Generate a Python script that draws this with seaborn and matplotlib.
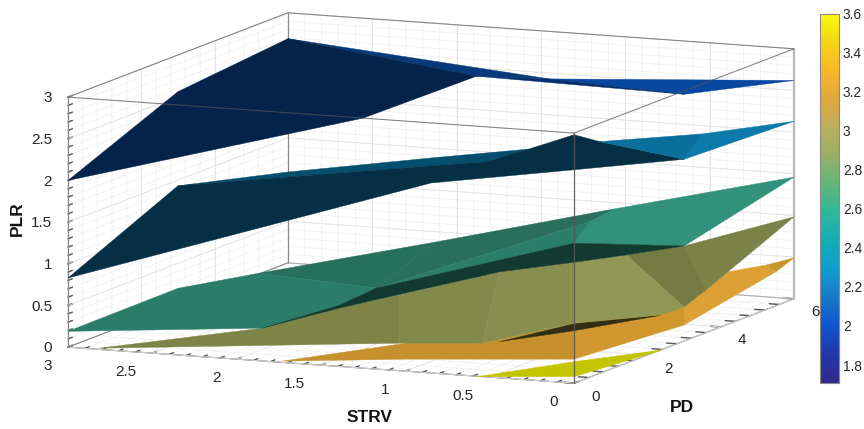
import numpy as np
import matplotlib
matplotlib.use("Agg")
import matplotlib.pyplot as plt
import seaborn as sns
from mpl_toolkits.mplot3d import proj3d
from mpl_toolkits.mplot3d.art3d import Poly3DCollection

sns.set_theme(style="white")
plt.rcParams['font.family'] = ['Liberation Sans', 'DejaVu Sans']

# axis ticks
pd_ticks = [0, 2, 4, 6]
strv_ticks = [0, 0.5, 1, 1.5, 2, 2.5, 3]
plr_ticks = [0, 0.5, 1, 1.5, 2, 2.5, 3]
pd_labels = ['0', '2', '4', '6']
strv_labels = ['0', '0.5', '1', '1.5', '2', '2.5', '3']
plr_labels = ['0', '0.5', '1', '1.5', '2', '2.5', '3']
pd_minor = [0.4, 0.8, 1.2, 1.6, 2.4, 2.8, 3.2, 3.6, 4.4, 4.8, 5.2, 5.6]
strv_minor = [0.1, 0.2, 0.3, 0.4, 0.6, 0.7, 0.8, 0.9, 1.1, 1.2, 1.3, 1.4, 1.6, 1.7, 1.8, 1.9, 2.1, 2.2, 2.3, 2.4, 2.6, 2.7, 2.8, 2.9]
plr_minor = [0.1, 0.2, 0.3, 0.4, 0.6, 0.7, 0.8, 0.9, 1.1, 1.2, 1.3, 1.4, 1.6, 1.7, 1.8, 1.9, 2.1, 2.2, 2.3, 2.4, 2.6, 2.7, 2.8, 2.9]

# colorbar
cbar_ticks = [1.8, 2, 2.2, 2.4, 2.6, 2.8, 3, 3.2, 3.4, 3.6]
cbar_labels = ['1.8', '2', '2.2', '2.4', '2.6', '2.8', '3', '3.2', '3.4', '3.6']
cbar_colors = ['#2f2a8a', '#2436a8', '#0f55d0', '#1a78c8', '#0f9ccf', '#13aeb4', '#2fb79a',
               '#62b578', '#97b068', '#bcae5e', '#e0a83c', '#fbb62a', '#f5d516', '#f9fb0e']

# top surface (lowest colour level)
navy_pd = [0, 3, 6, 3, 0, 6, 6, 3]
navy_strv = [3, 3, 3, 1.23, 1.25, 1.45, 0, 0]
navy_plr = [2.0, 2.56, 2.69, 3.0, 3.0, 2.43, 2.62, 2.96]
navy_faces = [[0, 1, 2, 3, 4], [2, 5, 3], [3, 5, 7], [5, 6, 7]]
navy_colors = ['#03234b', '#063a7a', '#062f6e', '#0747a0']

teal_pd = [0, 3, 6, 6, 3, 3, 3, 3, 3, 0, 3, 3, 0, 6, 3.5]
teal_strv = [3, 3, 3, 3, 1.5, 1.5, 1.5, 1.18, 0.92, 0, 0.5, 0, 0, 0, 0]
teal_plr = [0.83, 1.43, 1.09, 1.03, 1.98, 1.885, 1.68, 1.98, 2.17, 2.98, 2.32, 2.18, 2.56, 2.13, 2.4]
teal_faces = [[0, 1, 3, 5, 7, 8, 9, 10, 11, 12, 6], [1, 2, 4, 8, 7, 5, 3], [10, 14, 11], [14, 13, 11]]
teal_colors = ['#042f45', '#054f6e', '#0a6f9c', '#0b7aab']

green_pd = [0, 3, 5.2, 6, 3, 0, 3, 3, 3, 3, 0, 0, 3, 0, 3, 0]
green_strv = [3, 3, 3, 0, 0, 0, 1.824, 1.469, 0.413, 0.561, 1.848, 1.391, 1.095, 0, 0.342, 1.391]
green_plr = [0.19, 0.20, 0.01, 1.46, 1.14, 1.68, 0.373, 0.977, 1.525, 1.348, 0.394, 0.736, 0.671, 1.45, 0.983, 0.70]
green_faces = [[0, 1, 2, 6, 11, 10], [2, 7, 6], [6, 7, 8, 9], [6, 9, 5], [5, 9, 8, 3, 4],
               [10, 11, 6, 5, 4, 14, 13, 12, 15]]
green_colors = ['#2a7d68', '#27715c', '#296f5b', '#2b7f69', '#31917a', '#123a30']

olive_pd = [0.07, 0, 0, 3, 0, 3, 3, 6, 3.6, 3, 0, 0, 0, 0, 3]
olive_strv = [2.83, 1.848, 1.391, 1.095, 0, 0.342, 0, 0, 0, 0, 0, 0.544, 1.036, 1.036, 0.146]
olive_plr = [0, 0.394, 0.70, 0.671, 1.45, 0.983, 1.14, 0.984, 0.511, 0.408, 0.72, 0.402, 0.331, 0.908, 0.291]
olive_faces = [[0, 1, 2, 13, 12], [13, 3, 11, 12], [3, 4, 10, 11], [4, 5, 9, 14, 10], [5, 6, 8, 9], [6, 7, 8]]
olive_colors = ['#7d8445', '#828a4a', '#888f4e', '#8f9955', '#747c43', '#7a8248']

# thin dark sliver between the olive and orange sheets
sliver_pd = [0, 0, 3, 0]
sliver_strv = [0.443, 0, 0.146, 0]
sliver_plr = [0.44, 0.72, 0.291, 0.636]
sliver_faces = [[0, 1, 2, 3]]
sliver_colors = ['#2f2f18']

orange_pd = [0, 0, 0, 0, 3, 3.6, 4.5, 5.5, 6, 5.5, 3, 0, 0]
orange_strv = [1.73, 0.993, 0.544, 0, 0, 0, 0.0634, 0.05, 0, 0, 0, 0, 0.993]
orange_plr = [0.015, 0.337, 0.402, 0.72, 0.408, 0.511, 0.568, 0.485, 0.492, 0.408, 0.192, 0.288, 0.145]
orange_faces = [[0, 1, 2, 3, 11, 12], [3, 4, 10, 11], [4, 5, 6, 7, 9, 10], [7, 8, 9]]
orange_colors = ['#c6902d', '#d2962f', '#dda034', '#c8952b']

yellow_pd = [0, 0, 2.4, 0]
yellow_strv = [0.579, 0, 0, 0]
yellow_plr = [0.0, 0.264, 0.0, 0.084]
yellow_faces = [[0, 1, 2, 3]]
yellow_colors = ['#c3c500']


def draw_sheet(ax, pd_vals, strv_vals, plr_vals, faces, colors, order):
    pts = np.column_stack([pd_vals, strv_vals, plr_vals])
    polys = [pts[f] for f in faces]
    coll = Poly3DCollection(polys, facecolors=colors, edgecolors=colors, linewidths=0.3, zorder=order)
    ax.add_collection3d(coll)


W = 860
fig = plt.figure(figsize=(8.64, 4.29), dpi=100)
ax = fig.add_axes([-10.6 / 864, -210.6 / 429, W / 864, W / 429], projection='3d', computed_zorder=False)
ax.set_proj_type('ortho')
ax.view_init(elev=9.5, azim=203.3)
ax.set_box_aspect((556, 551, 253.5), zoom=798.8 / W)
ax.patch.set_alpha(0)

draw_sheet(ax, yellow_pd, yellow_strv, yellow_plr, yellow_faces, yellow_colors, 3)
draw_sheet(ax, orange_pd, orange_strv, orange_plr, orange_faces, orange_colors, 4)
draw_sheet(ax, sliver_pd, sliver_strv, sliver_plr, sliver_faces, sliver_colors, 5)
draw_sheet(ax, olive_pd, olive_strv, olive_plr, olive_faces, olive_colors, 6)
draw_sheet(ax, green_pd, green_strv, green_plr, green_faces, green_colors, 7)
draw_sheet(ax, teal_pd, teal_strv, teal_plr, teal_faces, teal_colors, 8)
draw_sheet(ax, navy_pd, navy_strv, navy_plr, navy_faces, navy_colors, 9)

x0, x1 = 0, 6
y0, y1 = 0, 3
z0, z1 = 0, 3

# major grid on the back walls
for v in pd_ticks:
    ax.plot([v, v], [y0, y1], [z0, z0], color='#e6e6e6', lw=0.6, zorder=1)
    ax.plot([v, v], [y1, y1], [z0, z1], color='#e2e2e2', lw=0.6, zorder=1)
for v in strv_ticks:
    ax.plot([x0, x1], [v, v], [z0, z0], color='#e6e6e6', lw=0.6, zorder=1)
    ax.plot([x1, x1], [v, v], [z0, z1], color='#e2e2e2', lw=0.6, zorder=1)
for v in plr_ticks:
    ax.plot([x1, x1], [y0, y1], [v, v], color='#e2e2e2', lw=0.6, zorder=1)
    ax.plot([x0, x1], [y1, y1], [v, v], color='#e2e2e2', lw=0.6, zorder=1)

# box edges, back ones go behind the sheets
edge = '#858585'
ax.plot([x1, x1], [y1, y1], [z0, z1], color=edge, lw=0.8, zorder=2)
ax.plot([x1, x1], [y0, y1], [z1, z1], color=edge, lw=0.8, zorder=2)
ax.plot([x0, x1], [y1, y1], [z1, z1], color=edge, lw=0.8, zorder=2)
ax.plot([x0, x1], [y1, y1], [z0, z0], color=edge, lw=0.8, zorder=2)
ax.plot([x1, x1], [y0, y1], [z0, z0], color='#b0b0b0', lw=0.8, zorder=2)
ax.plot([x1, x1], [y0, y0], [z0, z1], color='#b8b8b8', lw=1.6, zorder=2)
ax.plot([x0, x0], [y1, y1], [z0, z1], color=edge, lw=0.8, zorder=2)
ax.plot([x0, x0], [y0, y0], [z0, z1], color='#555555', lw=0.9, alpha=0.9, zorder=12)
ax.plot([x0, x0], [y0, y1], [z1, z1], color='#555555', lw=0.8, alpha=0.7, zorder=12)
ax.plot([x0, x1], [y0, y0], [z1, z1], color='#555555', lw=0.8, alpha=0.7, zorder=12)

ax.set_xlim(x0, x1, view_margin=0)
ax.set_ylim(y0, y1, view_margin=0)
ax.set_zlim(z0, z1, view_margin=0)

ax.set_xticks(pd_ticks, labels=[''] * len(pd_ticks))
ax.set_yticks(strv_ticks, labels=[''] * len(strv_ticks))
ax.set_zticks(plr_ticks, labels=[''] * len(plr_ticks))
ax.set_xticks(pd_minor, minor=True)
ax.set_yticks(strv_minor, minor=True)
ax.set_zticks(plr_minor, minor=True)
ax.tick_params(axis='both', which='both', color='#555555', width=0.6)
ax.tick_params(axis='z', which='both', color='#555555', width=0.6)

for axis in (ax.xaxis, ax.yaxis, ax.zaxis):
    axis.set_pane_color((1, 1, 1, 1))
    axis.pane.set_edgecolor('none')
    axis.line.set_color('#555555')
    axis.line.set_linewidth(0.8)
    axis._axinfo['grid'].update(color='#dedede', linewidth=0.6, linestyle=':')
    axis._axinfo['tick'].update(inward_factor=0.0, outward_factor=0.25)
ax.grid(True)


# tick labels sit a fixed step off the box, right aligned like the original
def tick_text(px, py, pz, s, ha):
    sx, sy, _ = proj3d.proj_transform(px, py, pz, ax.get_proj())
    ax.text2D(sx, sy, s, transform=ax.transData, ha=ha, va='center', fontsize=11, color='#262626', zorder=20)


for v, s in zip(strv_ticks, strv_labels):
    tick_text(-0.436, v, -0.152, s, 'right')
for v, s in zip(pd_ticks, pd_labels):
    tick_text(v, -0.1275, -0.144, s, 'center')
for v, s in zip(plr_ticks, plr_labels):
    tick_text(-0.436, 3, v + 0.061, s, 'right')

fig.text(17 / 864, 1 - 219 / 429, 'PLR', rotation=90, fontsize=12.5, fontweight='bold',
         ha='center', va='center', color='#111111')
fig.text(370 / 864, 1 - 418 / 429, 'STRV', fontsize=12.5, fontweight='bold',
         ha='center', va='center', color='#111111')
fig.text(682 / 864, 1 - 407 / 429, 'PD', fontsize=12.5, fontweight='bold',
         ha='center', va='center', color='#111111')

# colorbar
cmap = sns.blend_palette(cbar_colors, as_cmap=True)
cax = fig.add_axes([820 / 864, 1 - 383 / 429, 18.7 / 864, 369.5 / 429])
sm = plt.cm.ScalarMappable(norm=plt.Normalize(1.708, 3.6), cmap=cmap)
cb = fig.colorbar(sm, cax=cax)
cb.set_ticks(cbar_ticks, labels=cbar_labels)
cb.ax.tick_params(direction='in', length=3, width=0.6, color='#555555', labelsize=9.9, labelcolor='#262626', pad=3)
cb.outline.set_edgecolor('#8a8a8a')
cb.outline.set_linewidth(0.8)

fig.savefig('out.png', dpi=100)
